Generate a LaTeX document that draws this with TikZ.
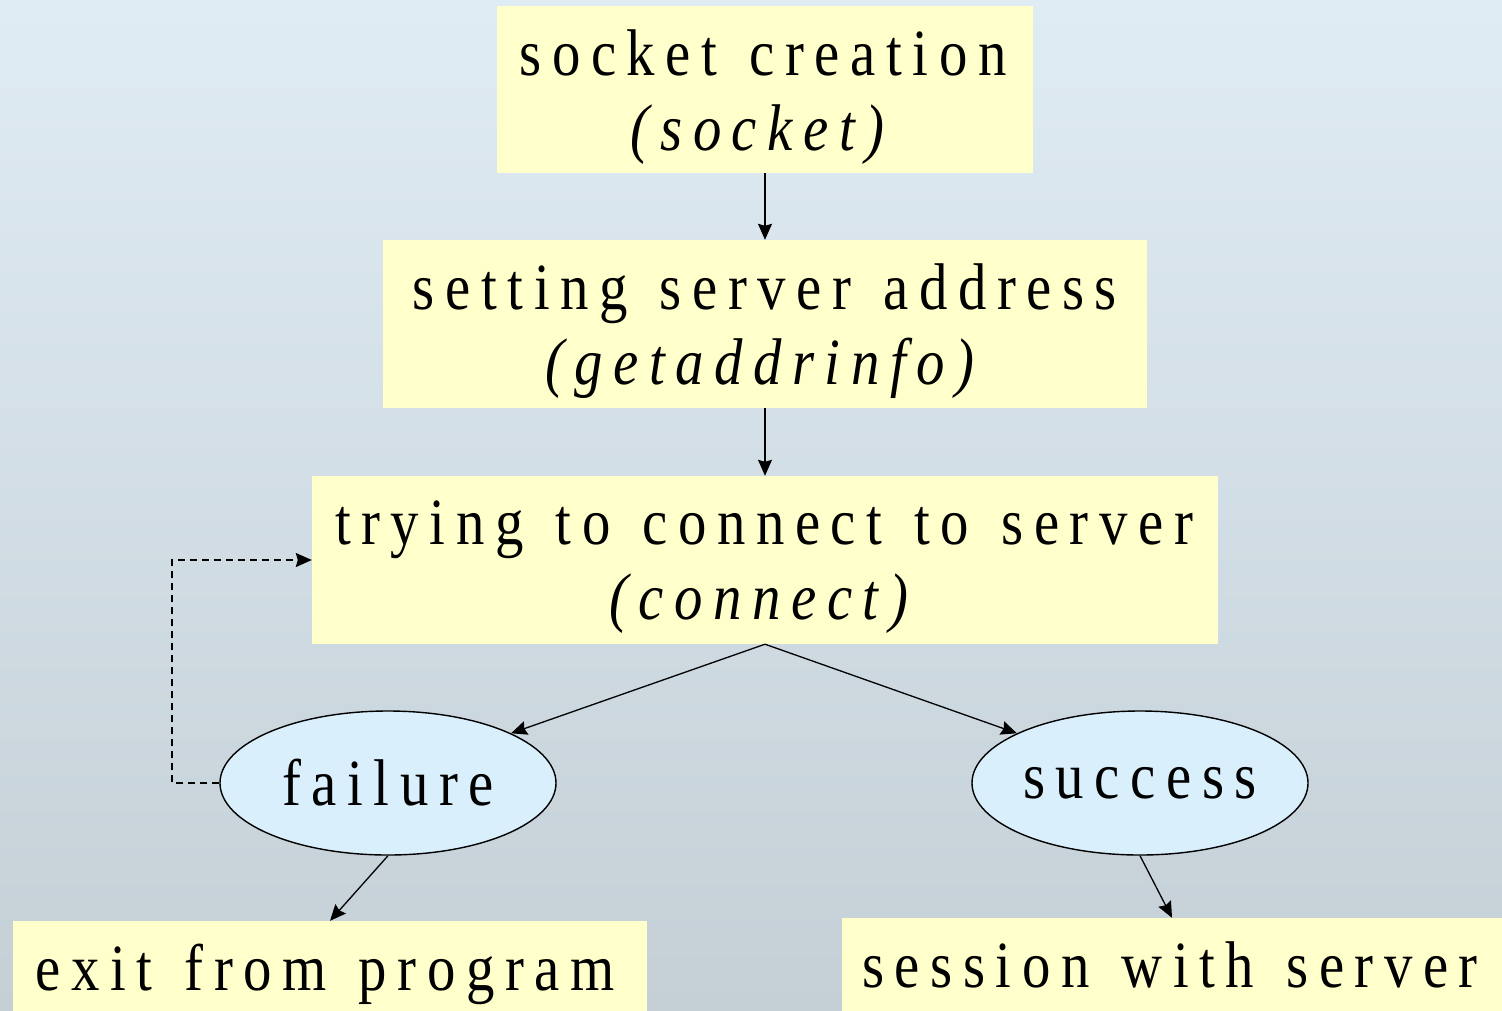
\documentclass[tikz,border=0pt]{standalone}
\usepackage{fontspec}
\setmainfont{Liberation Serif}[FakeStretch=0.86, LetterSpace=16, WordSpace=1.3]
\usetikzlibrary{arrows.meta,shapes.geometric}
\definecolor{boxyellow}{RGB}{255,255,204}
\definecolor{ellblue}{RGB}{217,239,252}
\definecolor{bgtop}{RGB}{224,236,244}
\definecolor{bgbot}{RGB}{196,207,214}
\tikzset{
  stepbox/.style={fill=boxyellow, draw=none, inner sep=0pt},
  steptext/.style={inner sep=0pt, align=center, font=\fontsize{66}{75}\selectfont},
  stateell/.style={ellipse, draw=black, line width=1.4pt, fill=ellblue, inner sep=0pt,
    minimum width=336pt, minimum height=144pt, font=\fontsize{66}{75}\selectfont},
  flow/.style={-{Stealth[length=16pt,width=14pt,inset=2pt]}, line width=1.3pt, black},
  retry/.style={-{Stealth[length=16pt,width=14pt,inset=2pt]}, line width=1.3pt, black, dash pattern=on 7pt off 5pt}
}
\begin{document}
\begin{tikzpicture}[x=1pt,y=-1pt]
\useasboundingbox (0,0) rectangle (1502,1010);
\clip (0,0) rectangle (1502,1010);
\shade[top color=bgtop, bottom color=bgbot] (0,0) rectangle (1502,1010);
\node[stepbox, minimum width=536pt, minimum height=167pt] (sock) at (765,89.5) {};
\node[steptext] (sockt) at (763,97) {socket creation\\\textit{(socket)}};
\node[stepbox, minimum width=764pt, minimum height=168pt] (addr) at (765,324) {};
\node[steptext] (addrt) at (765,331) {setting server address\\\textit{(getaddrinfo)}};
\node[stepbox, minimum width=906pt, minimum height=168pt] (conn) at (765,560) {};
\node[steptext] (connt) at (764,567) {trying to connect to server\\\textit{(connect)}};
\node[stateell] (fail) at (388,783) {failure};
\node[stateell] (succ) at (1140,783) {\raisebox{-5pt}{success}};
\node[stepbox, minimum width=634pt, minimum height=140pt] (exitp) at (330,991) {};
\node[steptext, anchor=base] (exitt) at (325,990) {exit from program};
\node[stepbox, minimum width=660pt, minimum height=144pt] (sess) at (1172,990) {};
\node[steptext, anchor=base] (sesst) at (1170,987) {session with server};
\coordinate (c1) at (172,783);
\coordinate (c2) at (172,560);
\draw[flow] (sock.south) -- (addr.north);
\draw[flow] (addr.south) -- (conn.north);
\draw[flow] (conn.south) -- (fail.22);
\draw[flow] (conn.south) -- (succ.158);
\draw[flow] (fail.south) -- (exitp.north);
\draw[flow] (succ.south) -- (sess.north);
\draw[retry] (fail.west) -- (c1) -- (c2) -- (conn.west);
\end{tikzpicture}
\end{document}
